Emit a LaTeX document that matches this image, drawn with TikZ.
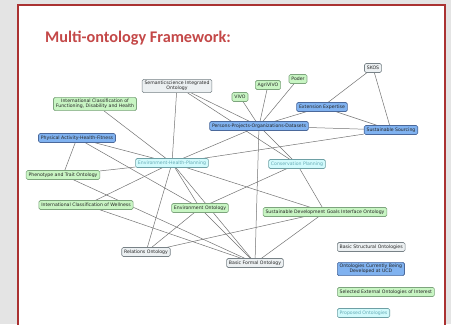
\documentclass[tikz,border=0pt]{standalone}
\usepackage{fontspec}
\setmainfont{DejaVu Sans}
\newfontfamily\titlefont{Carlito}
\pgfdeclarelayer{panel}
\pgfdeclarelayer{edges}
\pgfsetlayers{panel,edges,main}
\definecolor{bgray}{RGB}{228,228,228}
\definecolor{framered}{RGB}{170,50,50}
\definecolor{titlered}{RGB}{196,72,72}
\definecolor{edgecol}{RGB}{115,115,115}
\definecolor{grayfill}{RGB}{236,240,242}
\definecolor{graydraw}{RGB}{120,130,135}
\definecolor{bluefill}{RGB}{128,178,240}
\definecolor{bluedraw}{RGB}{75,105,155}
\definecolor{greenfill}{RGB}{200,245,195}
\definecolor{greendraw}{RGB}{125,165,125}
\definecolor{cyanfill}{RGB}{210,250,252}
\definecolor{cyandraw}{RGB}{110,160,165}
\definecolor{cyantext}{RGB}{100,170,180}
\tikzset{
  onto/.style={rounded corners=1.5pt, line width=0.6pt, inner xsep=2.4pt, inner ysep=1.7pt,
    minimum height=9pt, align=center, font=\fontsize{4.65}{5.4}\selectfont},
  gnode/.style={onto, fill=grayfill, draw=graydraw, text=black!85},
  bnode/.style={onto, fill=bluefill, draw=bluedraw, text=black!85},
  xnode/.style={onto, fill=greenfill, draw=greendraw, text=black!85},
  cnode/.style={onto, fill=cyanfill, draw=cyandraw, text=cyantext},
  link/.style={draw=edgecol, line width=0.5pt}
}
\begin{document}
\begin{tikzpicture}[x=1bp,y=-1bp]
\useasboundingbox (0,0) rectangle (451,324);
\begin{pgfonlayer}{panel}
\fill[bgray] (0,0) rectangle (451,324);
\filldraw[fill=white, draw=framered, line width=1.3pt] (18,5) rectangle (445,330);
\end{pgfonlayer}
\node[anchor=west, inner sep=0pt, text=titlered, font=\titlefont\bfseries\fontsize{16.3}{18}\selectfont] (title) at (45,38) {Multi-ontology Framework:};

\node[gnode] (sko) at (373,68) {SKOS};
\node[xnode] (pod) at (298,79) {Poder};
\node[xnode] (agr) at (268,85) {AgriVIVO};
\node[xnode] (viv) at (240,97) {VIVO};
\node[gnode] (sio) at (177,86) {Semanticscience Integrated\\Ontology};
\node[xnode] (icf) at (95,104) {International Classification of\\Functioning, Disability and Health};
\node[bnode] (ee) at (322,107) {Extension Expertise};
\node[bnode] (ppo) at (259,126) {Persons-Projects-Organizations-Datasets};
\node[bnode] (ss) at (391,130) {Sustainable Sourcing};
\node[bnode] (pahf) at (77,138) {Physical Activity-Health-Fitness};
\node[cnode] (ehp) at (172,163) {Environment-Health-Planning};
\node[cnode] (cp) at (297,164) {Conservation Planning};
\node[xnode] (pto) at (63,175) {Phenotype and Trait Ontology};
\node[xnode] (icw) at (86,205) {International Classification of Wellness};
\node[xnode] (envo) at (200,208) {Environment Ontology};
\node[xnode] (sdg) at (325,212) {Sustainable Development Goals Interface Ontology};
\node[gnode] (ro) at (146,252) {Relations Ontology};
\node[gnode] (bfo) at (255,263) {Basic Formal Ontology};

\node[gnode, anchor=west] (lg1) at (337,247) {Basic Structural Ontologies};
\node[bnode, anchor=west] (lg2) at (337,269) {Ontologies Currently Being\\Developed at UCD};
\node[xnode, anchor=west] (lg3) at (337,292) {Selected External Ontologies of Interest};
\node[cnode, anchor=west] (lg4) at (337,313) {Proposed Ontologies};

\begin{pgfonlayer}{edges}
\foreach \a/\b in {sko/ee, sko/ss, pod/ppo, agr/ppo, viv/ppo, ee/ppo, ee/ss, ppo/ss,
  sio/ppo, sio/cp, ppo/ehp, ppo/bfo, ppo/cp, ss/ehp, sio/ehp, icf/ehp, pahf/ehp,
  pahf/pto, pahf/envo, pto/ehp, pto/bfo, icw/ehp, icw/bfo, ehp/ro, ehp/envo,
  ehp/bfo, ehp/sdg, cp/envo, cp/sdg, envo/ro, envo/bfo, sdg/ro, sdg/bfo}
  \draw[link] (\a) -- (\b);
\end{pgfonlayer}
\end{tikzpicture}
\end{document}
